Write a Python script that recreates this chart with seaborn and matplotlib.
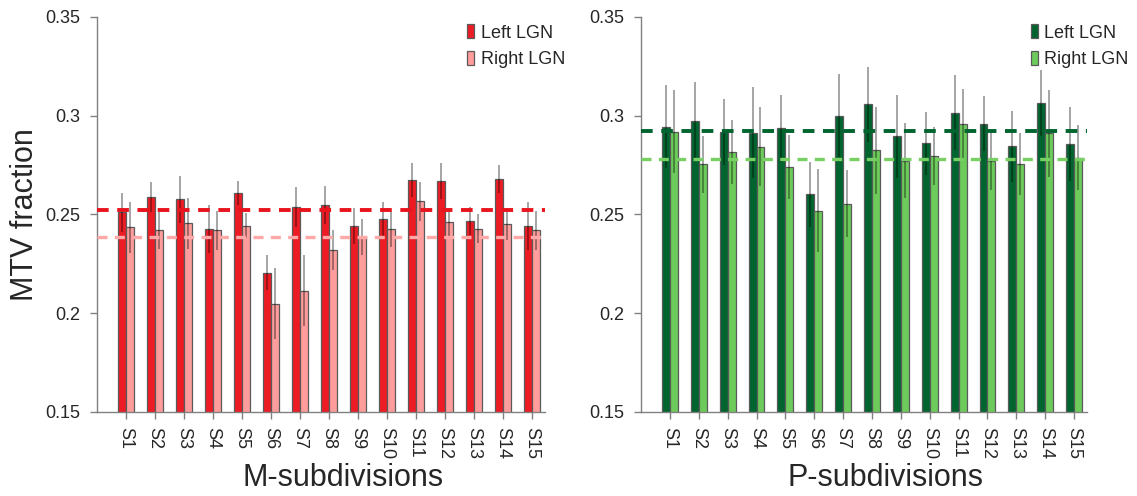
import numpy as np
import pandas as pd
import matplotlib
matplotlib.use("Agg")
import matplotlib.pyplot as plt
import seaborn as sns

# ---- data -------------------------------------------------------------
subdivisions = [f"S{i}" for i in range(1, 16)]
hemispheres = ["Left LGN", "Right LGN"]

m_left = [0.2511, 0.2588, 0.2577, 0.2427, 0.2610, 0.2206, 0.2539, 0.2548,
          0.2443, 0.2479, 0.2674, 0.2668, 0.2467, 0.2678, 0.2442]
m_right = [0.2435, 0.2420, 0.2455, 0.2420, 0.2443, 0.2047, 0.2113, 0.2320,
           0.2386, 0.2427, 0.2567, 0.2460, 0.2428, 0.2452, 0.2420]
m_left_err = [0.010, 0.0075, 0.012, 0.012, 0.006, 0.009, 0.010, 0.0094,
              0.009, 0.0086, 0.0086, 0.0092, 0.0072, 0.007, 0.012]
m_right_err = [0.013, 0.0094, 0.013, 0.0098, 0.0063, 0.018, 0.018, 0.010,
               0.009, 0.009, 0.0099, 0.0071, 0.0073, 0.008, 0.0099]

p_left = [0.2944, 0.2971, 0.2919, 0.2913, 0.2937, 0.2602, 0.2999, 0.3059,
          0.2897, 0.2860, 0.3015, 0.2959, 0.2846, 0.3064, 0.2855]
p_right = [0.2919, 0.2754, 0.2816, 0.2843, 0.2740, 0.2519, 0.2555, 0.2825,
           0.2772, 0.2796, 0.2959, 0.2771, 0.2754, 0.2910, 0.2787]
p_left_err = [0.021, 0.020, 0.0166, 0.023, 0.017, 0.0165, 0.021, 0.019,
              0.021, 0.016, 0.019, 0.014, 0.018, 0.0166, 0.0187]
p_right_err = [0.021, 0.0145, 0.016, 0.020, 0.016, 0.021, 0.017, 0.022,
               0.019, 0.0145, 0.0174, 0.0145, 0.0156, 0.022, 0.0165]

y_ticks = [0.15, 0.2, 0.25, 0.3, 0.35]
y_tick_labels = ["0.15", "0.2", "0.25", "0.3", "0.35"]

m_colors = ["#ED1C24", "#FF9C9C"]
p_colors = ["#00642F", "#6CCB5A"]
m_mean_colors = ["#E8141E", "#FFA8A8"]
p_mean_colors = ["#00642F", "#78D064"]

# ---- style ------------------------------------------------------------
sns.set_style("white")
plt.rcParams["font.family"] = ["Liberation Sans", "DejaVu Sans"]

fig = plt.figure(figsize=(11.37, 4.96), dpi=100)
ax_m = fig.add_axes([0.0853, 0.1694, 0.394, 0.7964])
ax_p = fig.add_axes([0.5638, 0.1694, 0.3923, 0.7964])


def draw_panel(ax, left, right, left_err, right_err, colors, mean_colors,
               xlabel, legend_x):
    df = pd.DataFrame({
        "subdivision": subdivisions * 2,
        "hemisphere": [hemispheres[0]] * len(subdivisions)
        + [hemispheres[1]] * len(subdivisions),
        "fraction": list(left) + list(right),
    })
    sns.barplot(data=df, x="subdivision", y="fraction", hue="hemisphere",
                order=subdivisions, hue_order=hemispheres, palette=colors,
                saturation=1, width=0.55, errorbar=None,
                edgecolor="#5a5a5a", linewidth=0.9, legend=False, ax=ax)

    # error bars centred on each bar
    for container, errs in zip(ax.containers, [left_err, right_err]):
        xs = [p.get_x() + p.get_width() / 2 for p in container.patches]
        ys = [p.get_height() for p in container.patches]
        ax.errorbar(xs, ys, yerr=errs, fmt="none", ecolor="black",
                    alpha=0.45, elinewidth=1.1, capsize=0, zorder=5)

    # mean of each hemisphere as a dashed reference line
    ax.axhline(np.mean(left), color=mean_colors[0], ls=(0, (3, 2.2)),
               lw=2.8, zorder=6)
    ax.axhline(np.mean(right), color=mean_colors[1], ls=(0, (3, 2.2)),
               lw=2.4, zorder=6)

    ax.set_ylim(0.15, 0.35)
    ax.set_xlim(-1.0, 14.45)
    ax.set_yticks(y_ticks)
    ax.set_yticklabels(y_tick_labels)
    ax.tick_params(axis="y", length=5, width=1, color="#808080", pad=7,
                   labelsize=13)
    ax.tick_params(axis="x", length=5, width=1, color="#808080", pad=6,
                   labelsize=13, labelrotation=-90)
    ax.tick_params(bottom=True, left=True)
    sns.despine(ax=ax)
    for side in ("left", "bottom"):
        ax.spines[side].set_color("#808080")
        ax.spines[side].set_linewidth(1.0)

    ax.set_xlabel(xlabel, fontsize=22)
    ax.xaxis.set_label_coords(0.549, -0.13)
    ax.set_ylabel("")

    ax.legend(handles=ax.containers, labels=hemispheres, loc="upper left",
              bbox_to_anchor=(legend_x, 0.982), frameon=False, fontsize=13,
              handlelength=0.4, handleheight=0.85, handletextpad=0.35,
              labelspacing=0.5, borderaxespad=0, borderpad=0)


draw_panel(ax_m, m_left, m_right, m_left_err, m_right_err, m_colors,
           m_mean_colors, "M-subdivisions", 0.826)
draw_panel(ax_p, p_left, p_right, p_left_err, p_right_err, p_colors,
           p_mean_colors, "P-subdivisions", 0.874)

ax_m.set_ylabel("MTV fraction", fontsize=22, labelpad=4)

fig.savefig("out.png", dpi=100)
